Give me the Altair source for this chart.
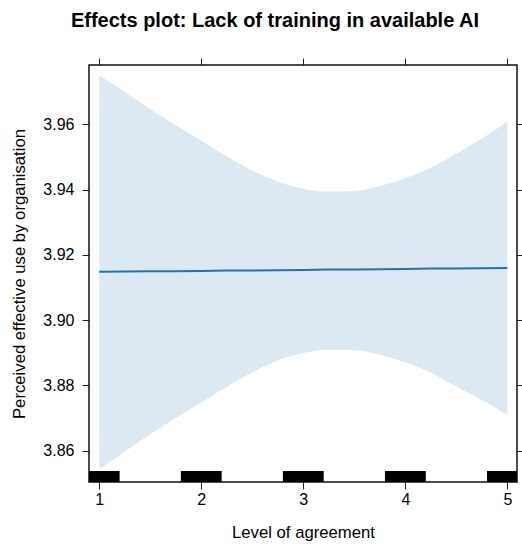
import altair as alt
import pandas as pd

# Data
grid_x = [1.00, 1.25, 1.50, 1.75, 2.00, 2.25, 2.50, 2.75, 3.00,
          3.25, 3.50, 3.75, 4.00, 4.25, 4.50, 4.75, 5.00]
fit_y = [3.9148, 3.9149, 3.9150, 3.9150, 3.9151, 3.9152, 3.9152, 3.9153, 3.9154,
         3.9155, 3.9155, 3.9156, 3.9157, 3.9158, 3.9158, 3.9159, 3.9160]
upper_y = [3.9750, 3.9700, 3.9647, 3.9597, 3.9550, 3.9502, 3.9458, 3.9425, 3.9403,
           3.9394, 3.9396, 3.9411, 3.9435, 3.9468, 3.9510, 3.9557, 3.9609]
lower_y = [3.8543, 3.8597, 3.8650, 3.8700, 3.8748, 3.8795, 3.8840, 3.8877, 3.8899,
           3.8909, 3.8908, 3.8894, 3.8871, 3.8839, 3.8797, 3.8755, 3.8710]
rug_levels = [1, 2, 3, 4, 5]
rug_spread = 0.2
x_ticks = [1, 2, 3, 4, 5]
y_ticks = [3.86, 3.88, 3.90, 3.92, 3.94, 3.96]

df = pd.DataFrame({"x": grid_x, "fit": fit_y, "lo": lower_y, "hi": upper_y})
rug = pd.DataFrame({"level": rug_levels})

FONT = "Liberation Sans"
xscale = alt.Scale(domain=[0.9, 5.094], nice=False, zero=False)
yscale = alt.Scale(domain=[3.8504, 3.9782], nice=False, zero=False)

common_axis = dict(labelFont=FONT, titleFont=FONT, labelFontSize=16, titleFontSize=16.7,
                   labelColor="black", titleColor="black", titleFontWeight="normal",
                   tickColor="#222222", tickSize=7, domain=False, grid=False)

band = alt.Chart(df).mark_area(color="#DDE9F2", opacity=1, interpolate="monotone").encode(
    x=alt.X("x:Q", scale=xscale,
            axis=alt.Axis(orient="bottom", values=x_ticks, title="Level of agreement",
                          labelPadding=2, titlePadding=17, **common_axis)),
    y=alt.Y("lo:Q", scale=yscale,
            axis=alt.Axis(orient="left", values=y_ticks, format=".2f",
                          title="Perceived effective use by organisation",
                          labelPadding=8, titlePadding=14, **common_axis)),
    y2="hi:Q",
)

line = alt.Chart(df).mark_line(color="#1F72B8", strokeWidth=2).encode(
    x=alt.X("x:Q", scale=xscale,
            axis=alt.Axis(orient="top", values=x_ticks, labels=False, title=None, **common_axis)),
    y=alt.Y("fit:Q", scale=yscale,
            axis=alt.Axis(orient="right", values=y_ticks, labels=False, title=None, **common_axis)),
)

rugs = alt.Chart(rug).transform_calculate(
    x0=f"datum.level - {rug_spread}", x1=f"datum.level + {rug_spread}"
).mark_rect(color="black", clip=True).encode(
    x=alt.X("x0:Q", scale=xscale, axis=None),
    x2="x1:Q",
    y=alt.value(406),
    y2=alt.value(417),
)

chart = alt.layer(band, line, rugs).resolve_axis(x="independent", y="independent").properties(
    width=428, height=417,
    padding={"left": 89, "top": 65, "right": 5, "bottom": 66},
    autosize=alt.AutoSizeParams(type="none"),
    title=alt.TitleParams("Effects plot: Lack of training in available AI", font=FONT,
                          fontSize=20, fontWeight="bold", color="black",
                          anchor="middle", frame="group", dx=-28, offset=27),
).configure(background="white").configure_view(stroke="#111111", strokeWidth=1.5)

chart.save("out.html", embed_options={"renderer": "svg", "actions": False})
